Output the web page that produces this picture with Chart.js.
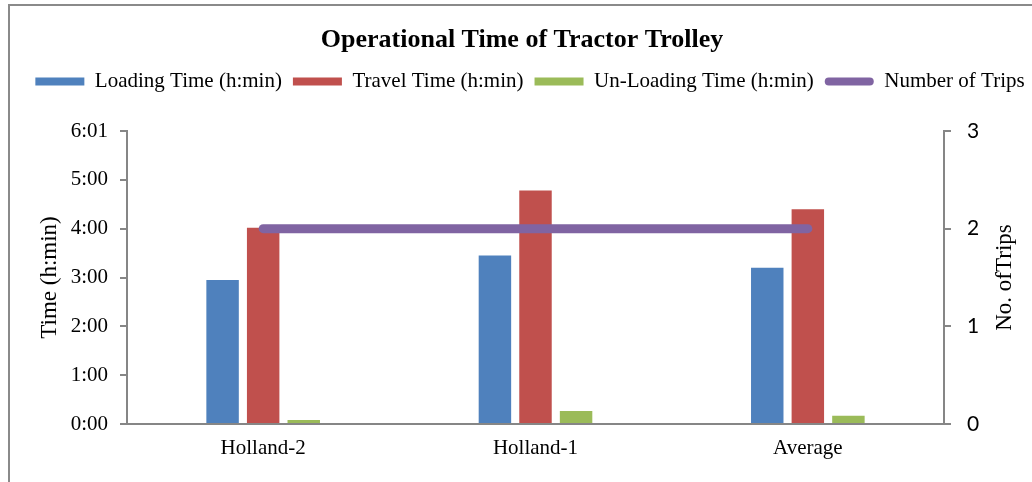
<!DOCTYPE html>
<html><head><meta charset="utf-8">
<script src="https://cdn.jsdelivr.net/npm/chart.js@4/dist/chart.umd.min.js"></script>
<style>
html,body{margin:0;padding:0;width:1032px;height:482px;overflow:hidden;background:#fff;}
#frame{position:absolute;left:8px;top:4px;width:1100px;height:600px;border-left:2px solid #8a8a8a;border-top:2px solid #8a8a8a;}
#wrap{position:absolute;left:9px;top:0;width:1026px;height:482px;}
</style></head><body>
<div id="frame"></div>
<div id="wrap"><canvas id="c" width="1026" height="482"></canvas></div>
<script>
// ---- data ----
const categories = ['Holland-2', 'Holland-1', 'Average'];
const loadingMin = [177, 207, 192];     // minutes
const travelMin = [241, 287, 264];      // minutes
const unloadingMin = [5, 16, 10];       // minutes
const numberOfTrips = [2, 2, 2];
const timeTickLabels = ['0:00', '1:00', '2:00', '3:00', '4:00', '5:00', '6:01'];
const tripTickLabels = ['0', '1', '2', '3'];
const seriesNames = ['Loading Time (h:min)', 'Travel Time (h:min)', 'Un-Loading Time (h:min)', 'Number of Trips'];
const seriesColors = ['#4F81BD', '#C0504D', '#9BBB59', '#8064A2'];

Chart.defaults.font.family = '"Liberation Serif", "Times New Roman", serif';
Chart.defaults.color = '#000';

const AXIS = '#868686';

const rightTitle = {
  id: 'rightTitle',
  afterDraw(chart) {
    const s = chart.scales.y2, ctx = chart.ctx;
    ctx.save();
    ctx.translate(s.right - 30, (s.top + s.bottom) / 2);
    ctx.rotate(-Math.PI / 2);
    ctx.font = '23px "Liberation Serif"';
    ctx.fillStyle = '#000';
    ctx.textAlign = 'center';
    ctx.textBaseline = 'middle';
    ctx.fillText('No. ofTrips', 0, 0);
    ctx.restore();
  }
};
const legendShift = {
  id: 'legendShift',
  afterLayout(chart) {
    if (chart.legend) { chart.legend.left += 8; chart.legend.right += 8; }
  }
};

const barCommon = { xAxisID: 'x', yAxisID: 'y', type: 'bar', order: 1,
  categoryPercentage: 0.447, barPercentage: 0.8, borderWidth: 0 };

new Chart(document.getElementById('c'), {
  data: {
    labels: categories,
    datasets: [
      Object.assign({ label: seriesNames[0], data: loadingMin, backgroundColor: seriesColors[0] }, barCommon),
      Object.assign({ label: seriesNames[1], data: travelMin, backgroundColor: seriesColors[1] }, barCommon),
      Object.assign({ label: seriesNames[2], data: unloadingMin, backgroundColor: seriesColors[2] }, barCommon),
      { type: 'line', label: seriesNames[3], data: numberOfTrips, xAxisID: 'x', yAxisID: 'y2', order: 0,
        borderColor: seriesColors[3], backgroundColor: seriesColors[3], borderWidth: 9,
        borderCapStyle: 'round', pointRadius: 0, pointHoverRadius: 0, fill: false, tension: 0 }
    ]
  },
  options: {
    responsive: false,
    animation: false,
    devicePixelRatio: 1,
    layout: { padding: 0 },
    plugins: {
      tooltip: { enabled: false },
      title: {
        display: true,
        text: 'Operational Time of Tractor Trolley',
        font: { size: 26, weight: 'bold', family: '"Liberation Serif"' },
        color: '#000',
        padding: { top: 24.4, bottom: 4.4 }
      },
      legend: {
        display: true,
        position: 'top',
        labels: {
          font: { size: 21, family: '"Liberation Serif"' },
          color: '#000',
          boxWidth: 49,
          boxHeight: 8,
          padding: 11,
          useBorderRadius: true,
          generateLabels(chart) {
            return chart.data.datasets.map((ds, i) => ({
              text: ds.label,
              fillStyle: seriesColors[i],
              strokeStyle: seriesColors[i],
              lineWidth: 0,
              borderRadius: ds.type === 'line' ? 4 : 0,
              datasetIndex: i,
              hidden: false,
              fontColor: '#000'
            }));
          }
        }
      }
    },
    scales: {
      x: {
        type: 'category',
        position: 'bottom',
        offset: true,
        grid: { display: true, drawOnChartArea: false, drawTicks: false },
        border: { display: true, color: AXIS, width: 2 },
        ticks: { font: { size: 21 }, color: '#000', padding: 12, maxRotation: 0 },
        afterFit(s) { s.height = 58; }
      },
      xTop: {
        type: 'category',
        position: 'top',
        display: true,
        grid: { display: false },
        border: { display: false },
        ticks: { display: false },
        afterFit(s) { s.height = 29; }
      },
      y: {
        type: 'linear',
        position: 'left',
        min: 0,
        max: 360,
        grid: { display: true, drawOnChartArea: false, drawTicks: true, tickLength: 7, color: AXIS, lineWidth: 2 },
        border: { display: true, color: AXIS, width: 2 },
        ticks: {
          stepSize: 60,
          font: { size: 21 },
          color: '#000',
          padding: 12,
          callback: (v, i) => timeTickLabels[i]
        },
        title: {
          display: true,
          text: 'Time (h:min)',
          font: { size: 23, family: '"Liberation Serif"' },
          color: '#000',
          padding: { top: 27, bottom: 0 }
        },
        afterFit(s) { s.width = 118; }
      },
      y2: {
        type: 'linear',
        position: 'right',
        min: 0,
        max: 3,
        grid: { display: true, drawOnChartArea: false, drawTicks: true, tickLength: 7, color: AXIS, lineWidth: 2 },
        border: { display: true, color: AXIS, width: 2 },
        ticks: {
          stepSize: 1,
          font: { size: 21, family: 'Lato' },
          color: '#000',
          padding: 16,
          callback: (v, i) => tripTickLabels[i]
        },
        afterFit(s) { s.width = 91; }
      }
    }
  },
  plugins: [rightTitle, legendShift]
});
</script>
</body></html>
